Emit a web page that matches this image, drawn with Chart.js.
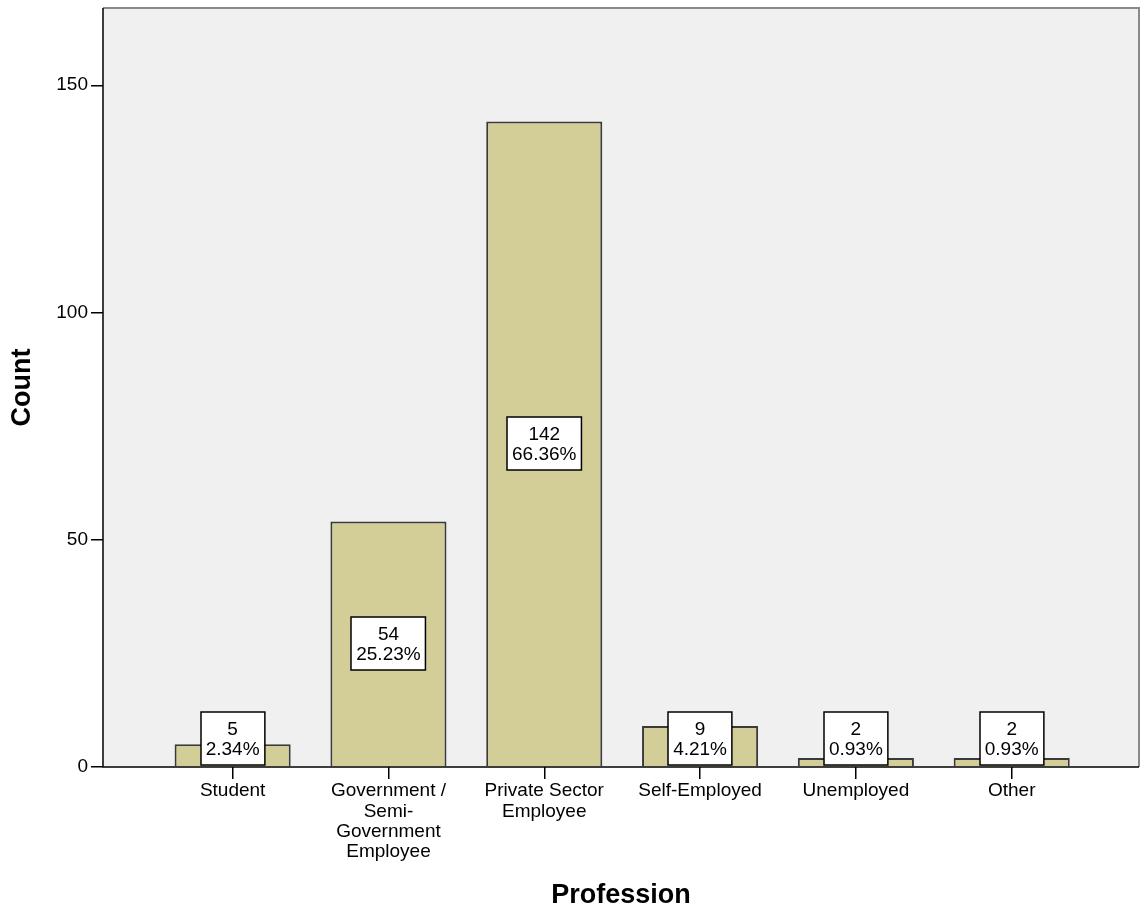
<!DOCTYPE html>
<html>
<head>
<meta charset="utf-8">
<title>Profession</title>
<script src="https://cdn.jsdelivr.net/npm/chart.js@4.4.1/dist/chart.umd.min.js"></script>
<style>
    html, body { margin: 0; padding: 0; background: #fff; }
    #wrap { width: 1140px; height: 910px; position: relative; }
</style>
</head>
<body>
<div id="wrap"><canvas id="professionChart"></canvas></div>
<script>
// Profession frequencies
var categories = ['Student', 'Government / Semi-Government Employee', 'Private Sector Employee',
    'Self-Employed', 'Unemployed', 'Other'];
var tickLabels = [
    'Student',
    ['Government /', 'Semi-', 'Government', 'Employee'],
    ['Private Sector', 'Employee'],
    'Self-Employed',
    'Unemployed',
    'Other'
];
var counts = [5, 54, 142, 9, 2, 2];
var percents = ['2.34%', '25.23%', '66.36%', '4.21%', '0.93%', '0.93%'];
var yTicks = [0, 50, 100, 150];

var FONT = "'Liberation Sans', Arial, sans-serif";

// grey plot background + frame
var plotFrame = {
    id: 'plotFrame',
    beforeDraw: function(chart) {
        var a = chart.chartArea, ctx = chart.ctx;
        ctx.save();
        ctx.fillStyle = '#f0f0f0';
        ctx.fillRect(a.left, a.top, a.right - a.left, a.bottom - a.top);
        ctx.restore();
    },
    afterDatasetsDraw: function(chart) {
        var a = chart.chartArea, ctx = chart.ctx;
        ctx.save();
        ctx.strokeStyle = '#8a8a8a';
        ctx.lineWidth = 2;
        ctx.beginPath();
        ctx.moveTo(a.left, a.top);
        ctx.lineTo(a.right, a.top);
        ctx.lineTo(a.right, a.bottom);
        ctx.stroke();
        ctx.strokeStyle = '#000';
        ctx.lineWidth = 1.5;
        ctx.beginPath();
        ctx.moveTo(a.left, a.top);
        ctx.lineTo(a.left, a.bottom);
        ctx.lineTo(a.right, a.bottom);
        ctx.stroke();
        ctx.restore();
    }
};

// count + percent boxes on each bar
var valueBoxes = {
    id: 'valueBoxes',
    afterDraw: function(chart) {
        var ctx = chart.ctx;
        var meta = chart.getDatasetMeta(0);
        var lineH = 20, padX = 5, padY = 6.5;
        ctx.save();
        ctx.font = '19px ' + FONT;
        ctx.textAlign = 'center';
        ctx.textBaseline = 'middle';
        meta.data.forEach(function(bar, i) {
            var lines = [String(counts[i]), percents[i]];
            var w = Math.max(ctx.measureText(lines[0]).width, ctx.measureText(lines[1]).width) + padX * 2;
            var h = lineH * 2 + padY * 2;
            var cy = Math.min((bar.y + bar.base) / 2, bar.base - h / 2 - 1);
            var x0 = Math.round(bar.x - w / 2), y0 = Math.round(cy - h / 2);
            ctx.fillStyle = '#fff';
            ctx.fillRect(x0, y0, w, h);
            ctx.strokeStyle = '#000';
            ctx.lineWidth = 1.5;
            ctx.strokeRect(x0, y0, w, h);
            ctx.fillStyle = '#000';
            ctx.fillText(lines[0], bar.x, cy - lineH / 2 + 1);
            ctx.fillText(lines[1], bar.x, cy + lineH / 2 + 1);
        });
        ctx.restore();
    }
};

new Chart(document.getElementById('professionChart'), {
    type: 'bar',
    data: {
        datasets: [{
            label: 'Count',
            data: counts.map(function(c, i) { return { x: i, y: c }; }),
            backgroundColor: '#d3ce97',
            borderColor: '#3a3a3a',
            borderWidth: 2,
            categoryPercentage: 1,
            barPercentage: 0.745
        }]
    },
    options: {
        responsive: true,
        maintainAspectRatio: false,
        animation: false,
        layout: { padding: { top: 8, right: 1, left: 0, bottom: 0 } },
        plugins: {
            legend: { display: false },
            tooltip: { enabled: false }
        },
        scales: {
            x: {
                type: 'linear',
                offset: false,
                min: -0.832,
                max: 5.817,
                afterBuildTicks: function(scale) {
                    scale.ticks = categories.map(function(c, i) { return { value: i }; });
                },
                afterFit: function(scale) {
                    scale.height = 143;
                    scale.paddingLeft = 0;
                    scale.paddingRight = 0;
                },
                border: { display: false },
                grid: { offset: false, drawOnChartArea: false, drawTicks: true, tickLength: 12, color: '#000', lineWidth: 1.5 },
                ticks: {
                    autoSkip: false,
                    maxRotation: 0,
                    padding: 2,
                    color: '#000',
                    font: { family: FONT, size: 19, lineHeight: 1.07 },
                    callback: function(value, index) { return tickLabels[index]; }
                },
                title: {
                    display: true,
                    text: 'Profession',
                    color: '#000',
                    font: { family: FONT, size: 27, weight: 'bold', lineHeight: 1 },
                    padding: { top: 0, bottom: 1 }
                }
            },
            y: {
                min: 0,
                max: 167,
                afterBuildTicks: function(scale) {
                    scale.ticks = yTicks.map(function(v) { return { value: v }; });
                },
                afterFit: function(scale) {
                    scale.width = 103;
                    scale.paddingTop = 0;
                    scale.paddingBottom = 0;
                },
                border: { display: false },
                grid: { drawOnChartArea: false, drawTicks: true, tickLength: 12, color: '#000', lineWidth: 1.5 },
                ticks: {
                    padding: 3,
                    color: '#000',
                    font: { family: FONT, size: 19 }
                },
                title: {
                    display: true,
                    text: 'Count',
                    color: '#000',
                    font: { family: FONT, size: 27, weight: 'bold', lineHeight: 1 },
                    padding: { top: 9, bottom: 0 }
                }
            }
        }
    },
    plugins: [plotFrame, valueBoxes]
});
</script>
</body>
</html>
